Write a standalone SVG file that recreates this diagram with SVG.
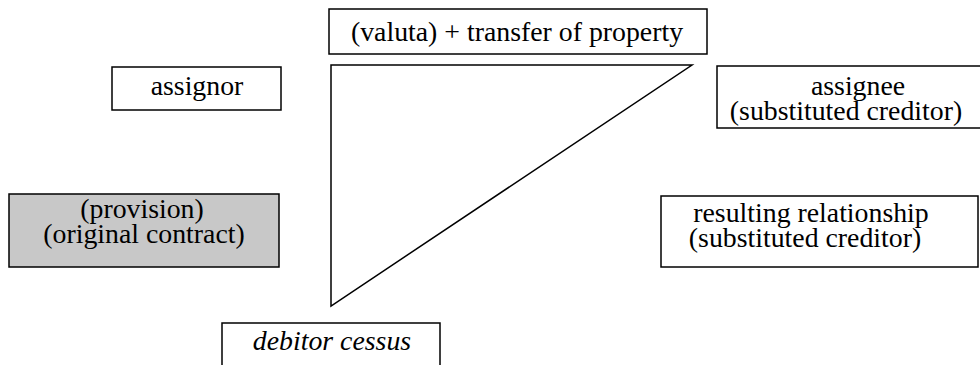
<svg xmlns="http://www.w3.org/2000/svg" width="980" height="365" viewBox="0 0 980 365">
<style>
.box{fill:#fff;stroke:#000;stroke-width:1.5}
.grey{fill:#c8c8c8}
.t{font-size:27.8px;fill:#000;text-anchor:middle}
.it{font-style:italic}
</style>
<rect width="980" height="365" fill="#fff"/>
<g id="connectors">
<polygon points="331,65 692,65 331,306" fill="none" stroke="#000" stroke-width="1.5"/>
</g>
<g font-family="Liberation Serif, DejaVu Serif, serif">
<g id="valuta">
<rect class="box" x="329" y="9" width="378" height="45"/>
<text class="t" x="517" y="41">(valuta) + transfer of property</text>
</g>
<g id="assignor">
<rect class="box" x="112" y="67" width="169" height="43"/>
<text class="t" x="197" y="95">assignor</text>
</g>
<g id="assignee">
<rect class="box" x="717" y="66" width="290" height="62"/>
<text class="t" x="858" y="95">assignee</text>
<text class="t" x="846" y="120">(substituted creditor)</text>
</g>
<g id="provision">
<rect class="box grey" x="9" y="194" width="270" height="73"/>
<text class="t" x="142" y="218">(provision)</text>
<text class="t" x="144" y="243">(original contract)</text>
</g>
<g id="resulting">
<rect class="box" x="661" y="196" width="317" height="71"/>
<text class="t" x="811" y="222">resulting relationship</text>
<text class="t" x="805" y="247">(substituted creditor)</text>
</g>
<g id="debitor">
<rect class="box" x="222" y="323" width="218" height="60"/>
<text class="t it" x="332" y="350">debitor cessus</text>
</g>
</g>
</svg>
